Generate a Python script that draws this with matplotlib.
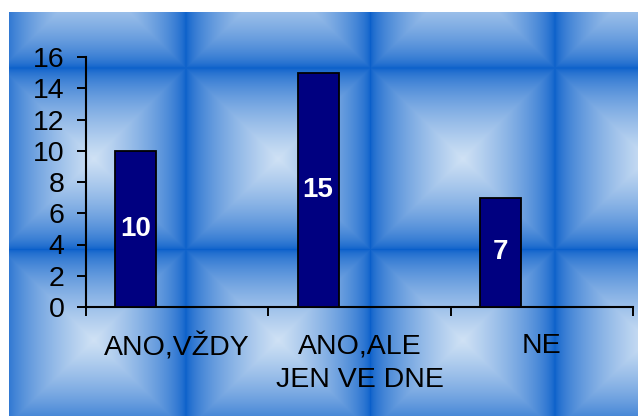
import numpy as np
import matplotlib
matplotlib.use("Agg")
import matplotlib.pyplot as plt

categories = ["ANO,VŽDY", "ANO,ALE\nJEN VE DNE", "NE"]
values = [10, 15, 7]
yticks = [0, 2, 4, 6, 8, 10, 12, 14, 16]

plt.rcParams['font.family'] = ['Liberation Sans', 'DejaVu Sans']

W, H = 638, 416
fig = plt.figure(figsize=(W / 100, H / 100), dpi=100)
fig.patch.set_facecolor("white")

# textured blue background (tiled bevel pattern)
bg = fig.add_axes([9 / W, 0, (W - 9) / W, (H - 12) / H], zorder=-1)
xs = np.arange(9, W) + 0.5
ys = np.arange(12, H) + 0.5
X, Y = np.meshgrid(xs, ys)
px, py = 184.5, 181.5
du = np.abs(((X - 186) + px / 2) % px - px / 2)
dv = np.abs(((Y - 68) + py / 2) % py - py / 2)
t = np.minimum(du / (px / 2), dv / (py / 2))
t = np.clip(t, 0, 1) ** 0.65
dark = np.array([10, 95, 202]) / 255
light = np.array([208, 226, 245]) / 255
img = dark[None, None, :] * (1 - t[..., None]) + light[None, None, :] * t[..., None]
bg.imshow(img, aspect="auto", interpolation="bilinear")
bg.set_axis_off()

ax = fig.add_axes([86 / W, (H - 307) / H, (633 - 86) / W, (307 - 57) / H])
ax.patch.set_alpha(0)

x = np.arange(len(categories))
ax.bar(x - 0.227, values, width=0.225, color="#000080", edgecolor="black",
       linewidth=1.3, zorder=3)
for xi, v in zip(x, values):
    ax.text(xi - 0.227, v / 2, str(v), ha="center", va="center",
            color="white", fontsize=20, fontweight="bold", zorder=4)

ax.set_xlim(-0.5, len(categories) - 0.5)
ax.set_ylim(0, 16)
ax.set_yticks(yticks)
ax.set_xticks(np.arange(len(categories) + 1) - 0.5)
ax.set_xticklabels([])
ax.set_xticks(x, minor=True)
ax.set_xticklabels(categories, minor=True, fontsize=20.5, linespacing=1.4)
ax.tick_params(axis="x", which="minor", length=0, pad=19)
ax.tick_params(axis="x", which="major", length=6.5, width=1.4, direction="out")
ax.tick_params(axis="y", length=6.5, width=1.4, direction="out", pad=9,
               labelsize=20.5)

for s in ["top", "right"]:
    ax.spines[s].set_visible(False)
for s in ["left", "bottom"]:
    ax.spines[s].set_linewidth(1.5)
    ax.spines[s].set_color("black")

fig.savefig("out.png", dpi=100)
